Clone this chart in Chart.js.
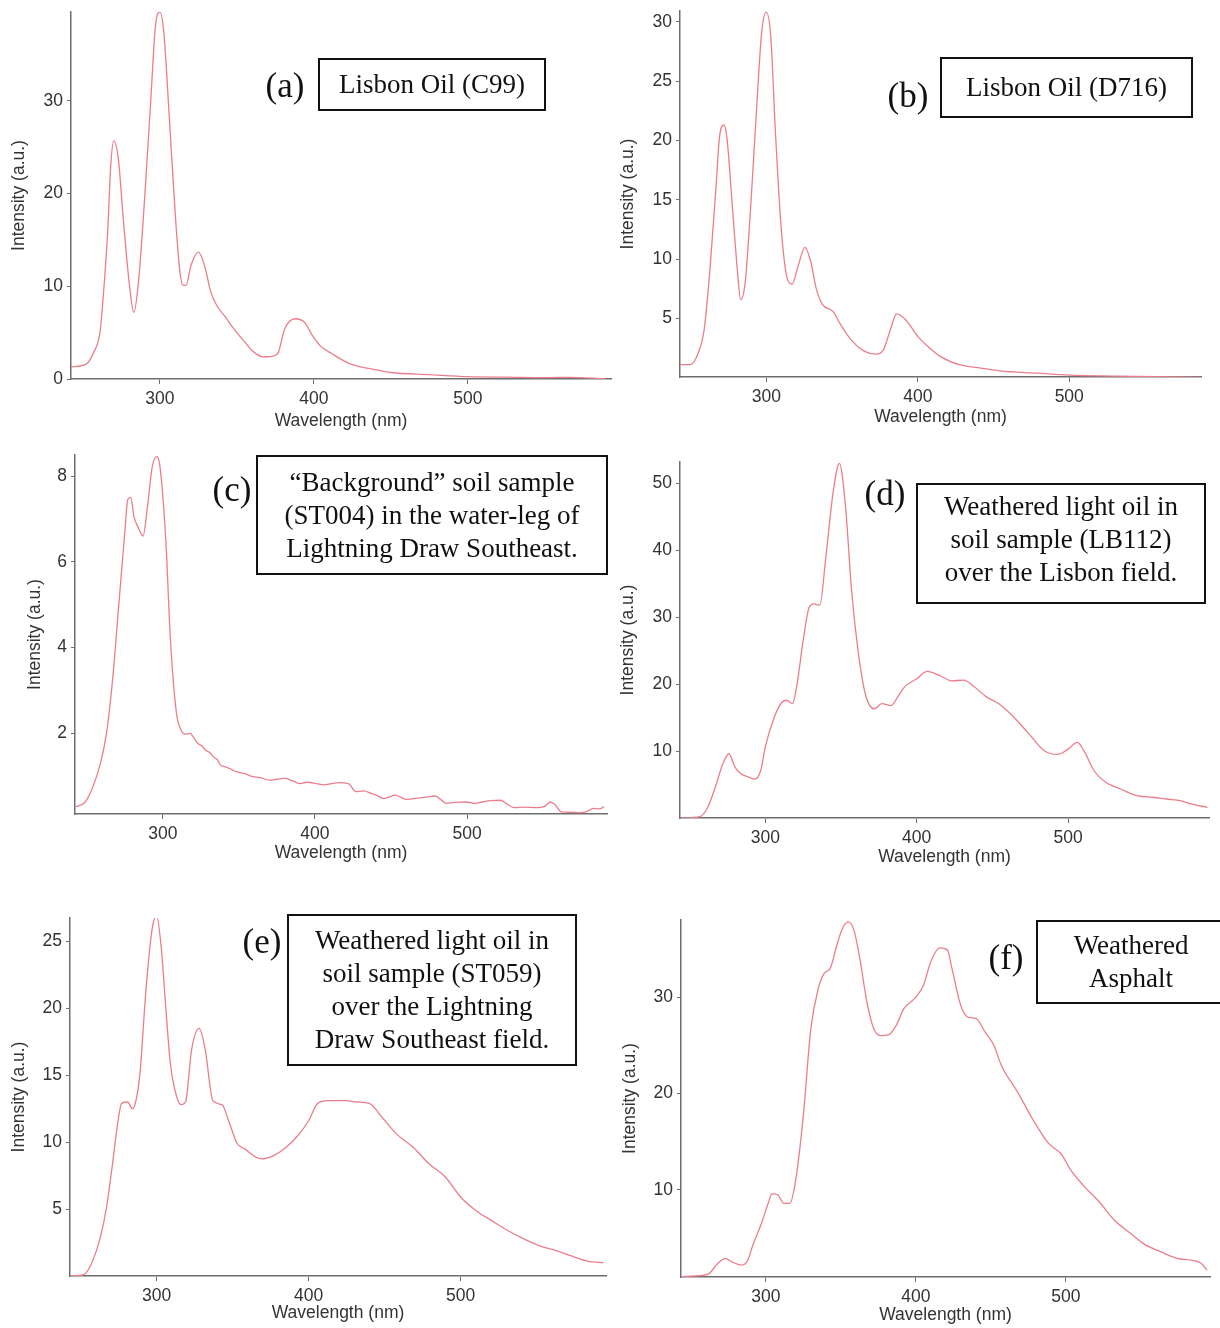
<!DOCTYPE html>
<html>
<head>
<meta charset="utf-8">
<script src="https://cdn.jsdelivr.net/npm/chart.js@4.4.0/dist/chart.umd.min.js"></script>
<style>
  html, body { margin: 0; padding: 0; background: #fff; overflow: hidden; }
  body { width: 1220px; height: 1328px; position: relative; }
  canvas { position: absolute; }
  .box {
    position: absolute; box-sizing: border-box; border: 2px solid #111;
    font-family: 'Liberation Serif', 'Times New Roman', serif; font-size: 27px;
    line-height: 33px; color: #111; text-align: center;
    display: flex; align-items: center; justify-content: center;
  }
  .lab {
    position: absolute; transform: translate(-50%, -50%);
    font-family: 'Liberation Serif', 'Times New Roman', serif; font-size: 35px; color: #111;
  }
</style>
</head>
<body>
<canvas id="chart-a"></canvas>
<canvas id="chart-b"></canvas>
<canvas id="chart-c"></canvas>
<canvas id="chart-d"></canvas>
<canvas id="chart-e"></canvas>
<canvas id="chart-f"></canvas>

<div class="lab" style="left:285px;top:86px">(a)</div>
<div class="box" style="left:318px;top:58px;width:228px;height:53px">Lisbon Oil (C99)</div>
<div class="lab" style="left:908px;top:96px">(b)</div>
<div class="box" style="left:940px;top:57px;width:253px;height:61px">Lisbon Oil (D716)</div>
<div class="lab" style="left:232px;top:490px">(c)</div>
<div class="box" style="left:256px;top:455px;width:352px;height:120px">“Background” soil sample<br>(ST004) in the water-leg of<br>Lightning Draw Southeast.</div>
<div class="lab" style="left:885px;top:494px">(d)</div>
<div class="box" style="left:916px;top:483px;width:290px;height:121px;padding-bottom:8px">Weathered light oil in<br>soil sample (LB112)<br>over the Lisbon field.</div>
<div class="lab" style="left:262px;top:942px">(e)</div>
<div class="box" style="left:287px;top:914px;width:290px;height:152px">Weathered light oil in<br>soil sample (ST059)<br>over the Lightning<br>Draw Southeast field.</div>
<div class="lab" style="left:1006px;top:958px">(f)</div>
<div class="box" style="left:1036px;top:920px;width:190px;height:84px">Weathered<br>Asphalt</div>

<script>
// (a) Lisbon Oil (C99)
const wlA = [242,252,257,261,263,266,268,270,273,276,280,283,286,290,294,297,300,302.5,306,310,313,315,317,320,325,329,333,337,342,348,355,361,367,374,377,381,388,394,399,404,412,424,437,450,475,500,526,551,566,589];
const intA = [1.3,1.6,2.9,5.0,8.6,15.8,23.0,25.7,23.7,17.6,10.4,7.2,10.4,19.4,30.0,38.0,39.6,37.4,28.4,17.6,11.5,10.1,10.1,12.2,13.7,12.2,9.4,7.9,6.8,5.4,4.0,2.9,2.4,2.5,2.9,5.4,6.5,6.1,4.7,3.6,2.7,1.6,1.1,0.7,0.47,0.25,0.2,0.15,0.18,0.05];

// (b) Lisbon Oil (D716)
const wlB = [243,250,255,259,263,267,269,272,274,278,281,283,286,290,294,297,300,303,306,310,314,317,320.5,325.5,329.5,333,337,344,349,356,364,372,377,382,386,392,400,408,415,428,441,454,479,500,531,556,587];
const intB = [1.13,1.13,2.1,4.1,9.5,16.5,20.2,21.3,20.2,13.7,8.9,6.6,8.0,15.1,23.6,29.2,30.8,28.6,20.7,12.3,8.3,7.9,9.2,11.0,9.7,7.5,6.2,5.6,4.5,3.2,2.3,2.0,2.3,4.1,5.4,4.9,3.5,2.5,1.8,1.1,0.85,0.6,0.4,0.23,0.15,0.1,0.05];

// (c) background soil ST004
const wlC = [243,249,254,259,263,267,271,275,277,279,281,284,287,290,293,296,298,302,305,309,312,315,318,320,323,326,328,331,333,336,338,341,344,346,349,354,359,364,370,375,380,385,390,395,401,406,411,416,422,427,432,437,441,445,449,453,457,460,465,470,474,479,483,486,492,499,505,510,516,522,526,531,538,546,551,555,558,562,568,575,579,583,587,590];
const intC = [0.29,0.4,0.75,1.3,2.0,3.25,4.96,6.67,7.45,7.5,7.06,6.79,6.6,7.3,8.2,8.45,8.26,6.5,4.2,2.47,2.08,1.98,2.0,1.92,1.77,1.7,1.61,1.55,1.46,1.38,1.26,1.22,1.18,1.14,1.1,1.06,0.99,0.97,0.91,0.93,0.95,0.9,0.83,0.86,0.83,0.8,0.83,0.85,0.83,0.64,0.66,0.6,0.55,0.48,0.52,0.56,0.5,0.46,0.48,0.5,0.52,0.54,0.45,0.37,0.39,0.4,0.37,0.4,0.43,0.44,0.36,0.27,0.28,0.27,0.3,0.4,0.33,0.17,0.16,0.15,0.18,0.25,0.24,0.29];

// (d) weathered light oil LB112
const wlD = [244,257,262,267,272,276,280,284,289,293,297,300,306,311,314,318,321,325,329,332,336,340,345,349,353,357,361,366,372,377,383,388,392,400,407,415,423,431,438,446,454,464,474,484,493,500,506,511,517,525,535,546,556,566,574,581,592];
const intD = [0,0.2,1.6,4.6,8.1,9.6,7.6,6.6,6.1,5.8,7.1,10.6,15.1,17.3,17.6,17.1,20.0,26.5,31.5,32.0,31.8,39.0,49.0,53.0,46.5,34.0,25.5,18.6,16.3,17.1,16.8,18.3,19.6,20.8,21.9,21.3,20.5,20.6,19.6,18.1,17.1,15.1,12.6,10.1,9.5,10.3,11.3,9.8,7.1,5.3,4.3,3.3,3.1,2.8,2.6,2.1,1.6];

// (e) weathered light oil ST059
const wlE = [243,252,257,263,267,271,275,277,281,284,286,289,293,297,300,303,306,309,312,316,319,323,328,332,337,343,348,353,358,365,369,377,385,393,400,406,413,424,432,440,448,458,469,479,490,500,510,521,531,542,552,563,573,584,594];
const intE = [0,0.1,0.9,2.9,5.1,8.4,11.9,12.9,13.0,12.5,12.9,15.1,21.4,25.9,26.9,24.6,20.1,15.9,13.9,12.8,13.0,16.9,18.5,16.9,13.1,12.8,11.4,9.9,9.5,8.9,8.75,9.0,9.6,10.5,11.6,12.9,13.1,13.1,13.0,12.9,11.9,10.6,9.6,8.4,7.4,5.9,4.9,4.1,3.4,2.75,2.25,1.9,1.5,1.1,1.0];

// (f) weathered asphalt
const wlF = [243,255,262,267,273,278,284,288,291,297,302,304,308,312,316,320,325,330,335,339,343,347,351,355,359,363,367,372,377,382,387,392,400,405,410,416,421,424,430,435,440,446,452,457,468,478,488,497,503,512,522,532,543,553,563,574,584,590,594];
const intF = [1.0,1.1,1.3,2.2,2.9,2.5,2.2,2.7,4.1,6.5,8.8,9.6,9.5,8.6,8.6,11.1,17.7,26.7,30.9,32.5,33.0,35.2,37.1,37.8,36.8,33.7,29.8,26.7,26.0,26.1,27.1,28.8,30.0,31.2,33.7,35.1,34.9,33.0,29.1,27.9,27.8,26.4,25.0,22.9,20.1,17.3,14.9,13.7,12.1,10.4,8.8,6.9,5.5,4.3,3.6,2.9,2.7,2.4,1.7];

const xTickValues = [300, 400, 500];

// plot-area placement of each panel on the page
const panels = [
  { id: 'a', wl: wlA, val: intA, L: 71,  R: 611,  T: 12,  B: 379,  xMin: 242.2, xMax: 593,   yMin: 0,    yMax: 39.6,  step: 10, hideZero: false, yGap: 52, xGap: 42 },
  { id: 'b', wl: wlB, val: intB, L: 680, R: 1201, T: 11,  B: 377,  xMin: 243,   xMax: 587,   yMin: 0.08, yMax: 30.9,  step: 5,  hideZero: true,  yGap: 52, xGap: 40 },
  { id: 'c', wl: wlC, val: intC, L: 75,  R: 607,  T: 455, B: 814,  xMin: 242.3, xMax: 592,   yMin: 0.12, yMax: 8.49,  step: 2,  hideZero: true,  yGap: 40, xGap: 39 },
  { id: 'd', wl: wlD, val: intD, L: 680, R: 1209, T: 462, B: 818,  xMin: 243.7, xMax: 593,   yMin: 0,    yMax: 53.2,  step: 10, hideZero: true,  yGap: 52, xGap: 39 },
  { id: 'e', wl: wlE, val: intE, L: 70,  R: 606,  T: 918, B: 1276, xMin: 243,   xMax: 595.7, yMin: 0,    yMax: 26.75, step: 5,  hideZero: true,  yGap: 51, xGap: 37 },
  { id: 'f', wl: wlF, val: intF, L: 681, R: 1210, T: 920, B: 1277, xMin: 243.5, xMax: 596,   yMin: 0.97, yMax: 38,    step: 10, hideZero: true,  yGap: 51, xGap: 38 }
];

const axisColor = '#6e6e6e';
const textColor = '#333';
const sansFont = "Arial, 'Liberation Sans', sans-serif";

function drawPanel(p) {
  const padTop = 18, padRight = 20;
  const yw = p.yGap + 12;   // width of the y axis box
  const xh = p.xGap + 11;   // height of the x axis box
  const left = p.L - yw, top = p.T - padTop;
  const w = p.R + padRight - left, h = p.B + xh - top;

  const cv = document.getElementById('chart-' + p.id);
  cv.width = w; cv.height = h;
  cv.style.left = left + 'px'; cv.style.top = top + 'px';
  cv.style.width = w + 'px'; cv.style.height = h + 'px';

  new Chart(cv.getContext('2d'), {
    type: 'line',
    data: {
      datasets: [{
        data: p.wl.map((x, i) => ({ x: x, y: p.val[i] })),
        borderColor: 'rgb(236,126,140)',
        borderWidth: 1.3,
        pointRadius: 0,
        cubicInterpolationMode: 'monotone',
        fill: false
      }]
    },
    options: {
      responsive: false,
      animation: false,
      layout: { padding: { top: padTop, right: padRight, left: 0, bottom: 0 } },
      plugins: { legend: { display: false }, tooltip: { enabled: false } },
      scales: {
        x: {
          type: 'linear',
          min: p.xMin, max: p.xMax,
          afterBuildTicks: s => { s.ticks = xTickValues.map(v => ({ value: v })); },
          afterFit: s => { s.height = xh; },
          grid: { drawOnChartArea: false, drawTicks: true, tickLength: 5, color: axisColor },
          border: { color: axisColor, width: 1.5 },
          ticks: { color: textColor, padding: 5, font: { family: sansFont, size: 17.5 } },
          title: {
            display: true, text: 'Wavelength (nm)', color: textColor,
            font: { family: sansFont, size: 17.5 },
            padding: { top: 0, bottom: xh - p.xGap - 10.5 }
          }
        },
        y: {
          min: p.yMin, max: p.yMax,
          ticks: {
            stepSize: p.step, includeBounds: false, color: textColor, padding: 4,
            font: { family: sansFont, size: 17.5 }
          },
          afterBuildTicks: s => {
            if (p.hideZero) s.ticks = s.ticks.filter(t => t.value > 0.5);
          },
          afterFit: s => { s.width = yw; },
          grid: { drawOnChartArea: false, drawTicks: true, tickLength: 4, color: axisColor },
          border: { color: axisColor, width: 1.5 },
          title: {
            display: true, text: 'Intensity (a.u.)', color: textColor,
            font: { family: sansFont, size: 17.5 },
            padding: { top: yw - p.yGap - 10.5, bottom: 0 }
          }
        }
      }
    }
  });
}

panels.forEach(drawPanel);
</script>
</body>
</html>
